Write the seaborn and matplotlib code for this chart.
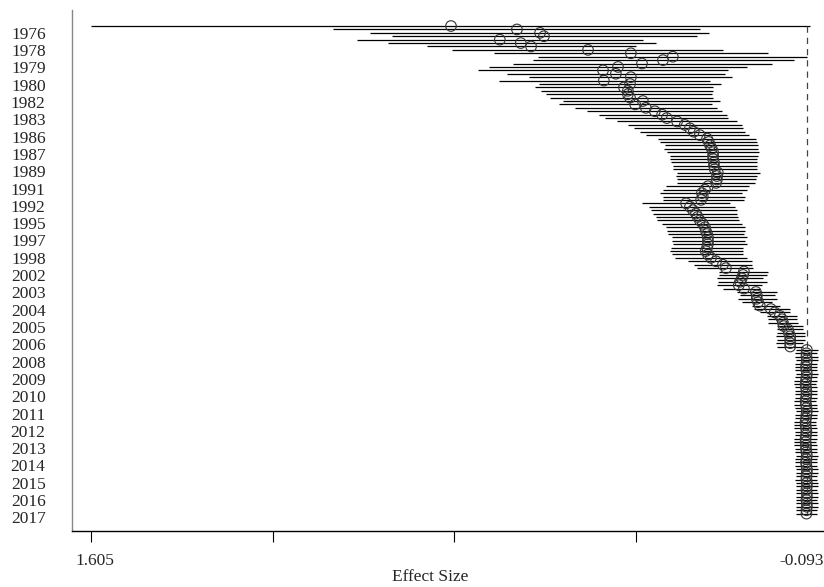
import numpy as np
import pandas as pd
import matplotlib
matplotlib.use("Agg")
import matplotlib.pyplot as plt
import matplotlib.transforms as mtransforms
import seaborn as sns

# ---------------- data (cumulative effect sizes) ----------------
est = [0.764, 0.610, 0.556, 0.547, 0.650, 0.601, 0.577, 0.444, 0.344, 0.246,
       0.269, 0.318, 0.374, 0.409, 0.379, 0.344, 0.407, 0.346, 0.360, 0.351,
       0.351, 0.346, 0.316, 0.334, 0.309, 0.288, 0.271, 0.260, 0.236, 0.218,
       0.206, 0.197, 0.183, 0.166, 0.162, 0.159, 0.155, 0.152, 0.152, 0.152,
       0.150, 0.150, 0.148, 0.141, 0.143, 0.143, 0.145, 0.164, 0.171, 0.178,
       0.176, 0.180, 0.215, 0.206, 0.199, 0.192, 0.188, 0.183, 0.176, 0.171,
       0.169, 0.166, 0.164, 0.164, 0.164, 0.166, 0.169, 0.164, 0.157, 0.145,
       0.129, 0.122, 0.080, 0.082, 0.085, 0.089, 0.092, 0.080, 0.052, 0.050,
       0.050, 0.047, 0.043, 0.017, 0.008, -0.004, -0.009, -0.011, -0.013, -0.023,
       -0.025, -0.028, -0.028, -0.028, -0.028,
       -0.067, -0.066, -0.066, -0.067, -0.066, -0.065, -0.066, -0.067, -0.066, -0.065,
       -0.064, -0.065, -0.066, -0.066, -0.065, -0.064, -0.065, -0.066, -0.067, -0.066,
       -0.065, -0.064, -0.064, -0.065, -0.066, -0.065, -0.064, -0.064, -0.065, -0.065,
       -0.066, -0.067, -0.066, -0.065, -0.066, -0.067, -0.067, -0.066, -0.066, -0.067,
       -0.067, -0.066, -0.067, -0.067, -0.066, -0.067, -0.067, -0.066, -0.066]

upper = [1.605, 1.040, 0.953, 0.902, 0.984, 0.911, 0.820, 0.762, 0.664, 0.561,
         0.573, 0.619, 0.675, 0.701, 0.633, 0.582, 0.652, 0.559, 0.568, 0.554,
         0.542, 0.533, 0.503, 0.512, 0.475, 0.447, 0.419, 0.405, 0.376, 0.351,
         0.337, 0.323, 0.309, 0.281, 0.276, 0.264, 0.267, 0.260, 0.253, 0.253,
         0.250, 0.246, 0.246, 0.236, 0.239, 0.236, 0.236, 0.262, 0.269, 0.276,
         0.269, 0.269, 0.318, 0.302, 0.297, 0.292, 0.285, 0.283, 0.271, 0.262,
         0.260, 0.257, 0.248, 0.248, 0.246, 0.250, 0.253, 0.248, 0.241, 0.211,
         0.197, 0.190, 0.138, 0.138, 0.143, 0.141, 0.143, 0.129, 0.096, 0.089,
         0.094, 0.085, 0.061, 0.057, 0.043, 0.026, 0.024, 0.024, 0.003, 0.003,
         0.003, 0.005, 0.003, 0.005, 0.003,
         -0.041, -0.040, -0.039, -0.041, -0.040, -0.039, -0.040, -0.041, -0.040, -0.038,
         -0.037, -0.039, -0.040, -0.040, -0.039, -0.037, -0.038, -0.040, -0.041, -0.040,
         -0.039, -0.037, -0.036, -0.038, -0.039, -0.039, -0.037, -0.036, -0.038, -0.039,
         -0.040, -0.041, -0.040, -0.039, -0.040, -0.041, -0.042, -0.041, -0.040, -0.041,
         -0.042, -0.041, -0.042, -0.042, -0.041, -0.042, -0.042, -0.041, -0.041]

lower = [-0.074, 0.183, 0.162, 0.190, 0.316, 0.285, 0.332, 0.129, 0.023, -0.067,
         -0.037, 0.015, 0.073, 0.117, 0.124, 0.108, 0.159, 0.134, 0.152, 0.152,
         0.155, 0.152, 0.136, 0.155, 0.143, 0.131, 0.120, 0.117, 0.096, 0.085,
         0.082, 0.078, 0.068, 0.052, 0.050, 0.047, 0.047, 0.045, 0.047, 0.050,
         0.050, 0.050, 0.050, 0.043, 0.050, 0.052, 0.054, 0.068, 0.073, 0.085,
         0.078, 0.080, 0.113, 0.101, 0.096, 0.096, 0.094, 0.092, 0.085, 0.078,
         0.078, 0.080, 0.073, 0.078, 0.073, 0.082, 0.082, 0.082, 0.073, 0.061,
         0.061, 0.059, 0.024, 0.026, 0.036, 0.026, 0.038, 0.043, 0.003, 0.008,
         0.003, 0.015, -0.004, -0.028, -0.028, -0.044, -0.044, -0.046, -0.058, -0.058,
         -0.063, -0.063, -0.063, -0.058, -0.058,
         -0.092, -0.091, -0.092, -0.092, -0.091, -0.091, -0.091, -0.092, -0.091, -0.090,
         -0.089, -0.090, -0.091, -0.091, -0.090, -0.089, -0.090, -0.091, -0.092, -0.091,
         -0.090, -0.089, -0.089, -0.090, -0.091, -0.090, -0.090, -0.089, -0.090, -0.090,
         -0.091, -0.092, -0.091, -0.090, -0.091, -0.092, -0.092, -0.091, -0.091, -0.092,
         -0.092, -0.091, -0.092, -0.092, -0.091, -0.092, -0.092, -0.091, -0.091]

pooled = -0.067
axis_max = 1.605
axis_min = -0.093

years = [1976, 1978, 1979, 1980, 1982, 1983, 1986, 1987, 1989, 1991, 1992, 1995,
         1997, 1998, 2002, 2003, 2004, 2005, 2006, 2008, 2009, 2010, 2011, 2012,
         2013, 2014, 2015, 2016, 2017]

# ---------------- figure ----------------
sns.set_theme(style="white")
plt.rcParams["font.family"] = ["Liberation Serif", "DejaVu Serif"]

n = len(est)
df = pd.DataFrame({"row": np.arange(n), "est": est, "upper": upper, "lower": lower})

fig = plt.figure(figsize=(8.24, 5.87), dpi=100)
ax = fig.add_axes([72 / 824, 1 - 531 / 587, (824 - 72) / 824, (531 - 10) / 587])

ax.hlines(df["row"], df["lower"], df["upper"], color="black", lw=0.9)
ax.vlines(pooled, 0, n - 1, color="#444444", lw=0.9, linestyles=(0, (5, 4)))
sns.scatterplot(data=df, x="est", y="row", ax=ax, marker="o", s=58,
                facecolor="none", edgecolor="#333333", linewidth=0.8, zorder=3)

ax.set_xlim(1.649, -0.107)
ax.set_ylim(148.1, -4.7)

# axes styling
for side in ["top", "right"]:
    ax.spines[side].set_visible(False)
ax.spines["left"].set_color("#888888")
ax.spines["left"].set_linewidth(1.0)
ax.spines["bottom"].set_color("black")
ax.spines["bottom"].set_linewidth(1.0)

ax.set_yticks(np.linspace(2.0, 144.1, len(years)))
ax.set_yticklabels([str(y) for y in years], fontsize=12.5)
ax.tick_params(axis="y", length=0, pad=19)

xt = np.linspace(axis_max, axis_min, 5)
ax.set_xticks(xt)
ax.set_xticklabels(["1.605", "", "", "", "-0.093"], fontsize=12.5)
ax.tick_params(axis="x", direction="out", length=8, width=0.8, color="black", pad=8,
               bottom=True)
ax.xaxis.get_major_ticks()[-1].tick1line.set_visible(False)
lab = ax.get_xticklabels()
lab[-1].set_horizontalalignment("right")
lab[-1].set_transform(lab[-1].get_transform() +
                      mtransforms.ScaledTranslation(6 / 100, 0, fig.dpi_scale_trans))
lab[0].set_transform(lab[0].get_transform() +
                     mtransforms.ScaledTranslation(4 / 100, 0, fig.dpi_scale_trans))

ax.set_xlabel("Effect Size", fontsize=12.5, labelpad=0)
ax.xaxis.set_label_coords(0.476, -0.072)
ax.set_ylabel("")
ax.grid(False)

fig.savefig("out.png", dpi=100, facecolor="white")
